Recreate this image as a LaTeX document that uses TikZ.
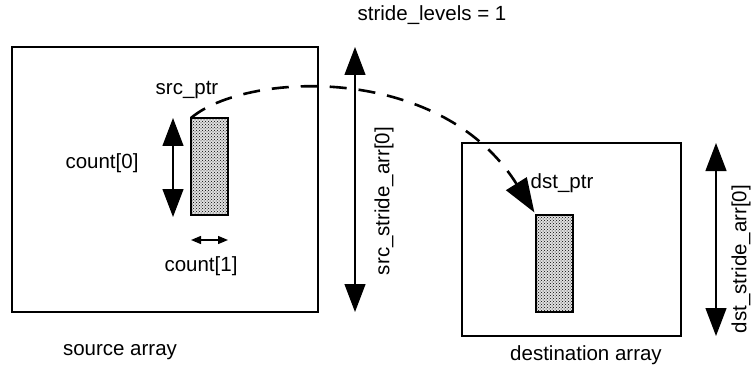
\documentclass[tikz,border=0pt]{standalone}
\usepackage{fontspec}
\setmainfont{Liberation Sans}
\usetikzlibrary{arrows.meta,patterns}

\begin{document}
\begin{tikzpicture}[x=1pt, y=-1pt, line width=1.3pt,
    every node/.style={font=\fontsize{20.5}{24}\selectfont, inner sep=0pt, outer sep=0pt},
    arraybox/.style={draw, anchor=north west},
    chunk/.style={draw, anchor=north west, preaction={fill=black!12}, pattern=crosshatch dots, pattern color=black},
    bigarrow/.style={{Triangle[length=28pt,width=21pt]}-{Triangle[length=28pt,width=21pt]}},
    smallarrow/.style={{Triangle[length=10pt,width=8pt]}-{Triangle[length=10pt,width=8pt]}},
    ptrarrow/.style={-{Triangle[length=34pt,width=24pt]}, line width=2.6pt, dash pattern=on 17pt off 12pt}]
  \useasboundingbox (0,0) rectangle (751,366);

  % Source array
  \node[arraybox, minimum width=306pt, minimum height=265pt] (srcbox) at (12,47) {};
  \node[chunk, minimum width=37pt, minimum height=97pt] (srcrect) at (191,118) {};
  \node (srclabel) at (120,352) {source array};
  \node (srcptr) at (187,90) {src\_ptr};

  % Destination array
  \node[arraybox, minimum width=219pt, minimum height=193pt] (dstbox) at (462,143) {};
  \node[chunk, minimum width=37pt, minimum height=97pt] (dstrect) at (536,215) {};
  \node (dstlabel) at (586,355) {destination array};
  \node (dstptr) at (562,183) {dst\_ptr};

  % Counts
  \coordinate (c0top) at (173,118);
  \coordinate (c0bot) at (173,217);
  \node (count0) at (102,163) {count[0]};
  \coordinate (c1left) at (191,240);
  \coordinate (c1right) at (228,240);
  \node (count1) at (201,266) {count[1]};

  % Strides
  \node (levels) at (432,15) {stride\_levels = 1};
  \coordinate (sstop) at (355,47);
  \coordinate (ssbot) at (355,312);
  \node[rotate=90] (srcstride) at (384,201) {src\_stride\_arr[0]};
  \coordinate (dstop) at (716,143);
  \coordinate (dsbot) at (716,336);
  \node[rotate=90] (dststride) at (741,259) {dst\_stride\_arr[0]};

  % Arrows
  \draw[bigarrow] (c0top) -- (c0bot);
  \draw[smallarrow] (c1left) -- (c1right);
  \draw[bigarrow] (sstop) -- (ssbot);
  \draw[bigarrow] (dstop) -- (dsbot);
  \draw[ptrarrow, shorten >=3pt] (srcrect.north west) .. controls (245,72) and (440,62) .. (dstrect.north west);
\end{tikzpicture}
\end{document}
